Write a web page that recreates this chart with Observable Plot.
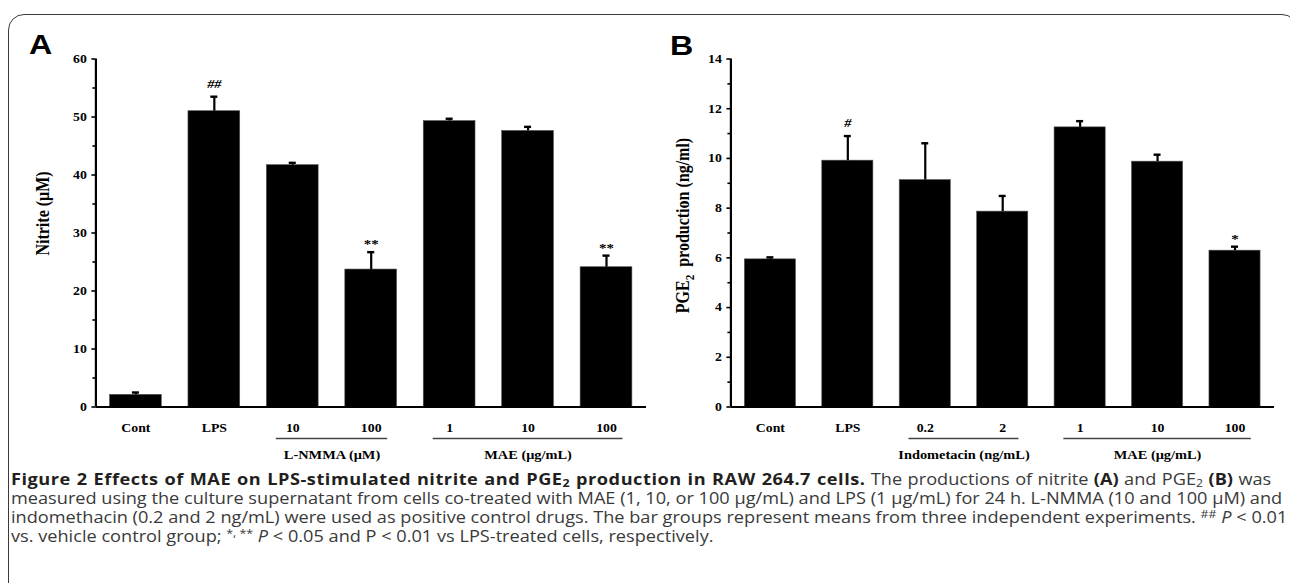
<!DOCTYPE html>
<html><head><meta charset="utf-8">
<script src="https://cdn.jsdelivr.net/npm/d3@7"></script>
<script src="https://cdn.jsdelivr.net/npm/@observablehq/plot@0.6"></script>
<style>
html,body{margin:0;padding:0;background:#fff;}
body{width:1290px;height:583px;overflow:hidden;position:relative;}
#frame{position:absolute;left:8px;top:14px;width:1290px;height:620px;border:1.6px solid #3a3a3a;border-radius:16px;box-sizing:border-box;}
.panel{position:absolute;top:0;}
.letter{position:absolute;font-family:"Liberation Sans",Arial,sans-serif;font-weight:bold;font-size:28px;line-height:1;color:#000;transform:scaleX(1.15);transform-origin:left top;}
#caption{position:absolute;left:11px;top:470px;width:1068px;font-family:"Open Sans",sans-serif;font-size:15.4px;line-height:19px;color:#3a3a3a;transform:scaleX(1.18);transform-origin:left top;}
#caption .ln{text-align:justify;text-align-last:justify;white-space:nowrap;}
#caption .last{text-align:left;white-space:nowrap;}
#caption b{color:#231f20;font-weight:700;}
#caption b.title{letter-spacing:0.45px;}
#caption sub,#caption sup{font-size:68%;line-height:0;}
#caption sub{vertical-align:-0.18em;}
#caption sup{vertical-align:0.45em;}
</style></head>
<body>
<div id="frame"></div>
<div class="letter" style="left:29px;top:31px">A</div>
<div class="letter" style="left:670px;top:32px">B</div>
<div id="panelA" class="panel" style="left:0px"></div>
<div id="panelB" class="panel" style="left:640px"></div>
<div id="caption">
<div class="ln"><b class="title">Figure 2 Effects of MAE on LPS-stimulated nitrite and PGE<sub>2</sub> production in RAW 264.7 cells.</b> The productions of nitrite <b>(A)</b> and PGE<sub>2</sub> <b>(B)</b> was</div>
<div class="ln">measured using the culture supernatant from cells co-treated with MAE (1, 10, or 100 μg/mL) and LPS (1 μg/mL) for 24 h. L-NMMA (10 and 100 μM) and</div>
<div class="ln">indomethacin (0.2 and 2 ng/mL) were used as positive control drugs. The bar groups represent means from three independent experiments. <sup>##</sup> <i>P</i> &lt; 0.01</div>
<div class="last">vs. vehicle control group; <sup>*, **</sup> <i>P</i> &lt; 0.05 and P &lt; 0.01 vs LPS-treated cells, respectively.</div>
</div>
<script>
// Panel A: nitrite
const catsA = ["Cont", "LPS", "10", "100", "1", "10", "100"];
const nitrite = [2.1, 51.0, 41.7, 23.7, 49.3, 47.6, 24.1];
const nitriteErr = [0.4, 2.5, 0.4, 3.0, 0.4, 0.7, 2.0];
const sigA = ["", "##", "", "**", "", "", "**"];
const groupNamesA = ["L-NMMA (μM)", "MAE (μg/mL)"];
const groupFirstA = [2, 4];
const groupLastA = [3, 6];
const yTicksA = [0, 10, 20, 30, 40, 50, 60];
const yMinorA = [5, 15, 25, 35, 45, 55];
const yLabelA = "Nitrite (μM)";

// Panel B: PGE2
const catsB = ["Cont", "LPS", "0.2", "2", "1", "10", "100"];
const pge2 = [5.94, 9.91, 9.13, 7.86, 11.25, 9.87, 6.29];
const pge2Err = [0.08, 0.99, 1.48, 0.63, 0.25, 0.28, 0.16];
const sigB = ["", "#", "", "", "", "", "*"];
const groupNamesB = ["Indometacin (ng/mL)", "MAE (μg/mL)"];
const groupFirstB = [2, 4];
const groupLastB = [3, 6];
const yTicksB = [0, 2, 4, 6, 8, 10, 12, 14];
const yMinorB = [1, 3, 5, 7, 9, 11, 13];
const yLabelB = "PGE2 production (ng/ml)";

function panel(o) {
  const data = o.cats.map((c, i) => ({i, c, v: o.values[i], top: o.values[i] + o.err[i], s: o.sig[i]}));
  const groups = o.groupNames.map((n, k) => ({name: n, first: o.groupFirst[k], last: o.groupLast[k]}));
  const x0 = -0.51, x1 = o.cats.length - 1 + 0.51;
  const half = 0.33, cap = 0.045;
  const ymax = o.ticks[o.ticks.length - 1];
  return Plot.plot({
    width: o.width, height: 470,
    marginLeft: o.marginLeft, marginRight: o.marginRight, marginTop: 58.5, marginBottom: 63.5,
    x: {domain: [x0, x1], axis: null},
    y: {domain: [0, ymax], axis: null, label: null},
    style: {fontFamily: "'Liberation Serif','Times New Roman',serif", fontSize: "12px", fontWeight: "bold", background: "transparent", overflow: "visible", color: "#000"},
    marks: [
      Plot.rectY(data, {x1: d => d.i - half, x2: d => d.i + half, y: "v", fill: "#000", stroke: "#555", strokeWidth: 0.6}),
      Plot.ruleX(data, {x: "i", y1: "v", y2: "top", strokeWidth: 2.2}),
      Plot.ruleY(data, {x1: d => d.i - cap, x2: d => d.i + cap, y: "top", strokeWidth: 2.4}),
      Plot.text(data.filter(d => d.s.includes("#")), {x: "i", y: "top", text: "s", dy: -13, fontSize: 12.5, fontStyle: "italic"}),
      Plot.text(data.filter(d => d.s.includes("*")), {x: "i", y: "top", text: "s", dy: -8, fontSize: 13}),
      Plot.ruleY([0], {strokeWidth: 2.2}),
      Plot.ruleX([x0], {y1: 0, y2: ymax, strokeWidth: 2.2}),
      Plot.axisY({ticks: o.ticks, tickSize: 4, tickPadding: 5, strokeWidth: 1.6, label: null, fontSize: 12}),
      Plot.axisY({ticks: o.minor, tickSize: 3, tickFormat: () => "", strokeWidth: 1.6, label: null}),
      Plot.axisX({ticks: data.map(d => d.i), tickFormat: i => o.cats[i], tickSize: 0, tickPadding: 16, label: null, fontSize: 12}),
      Plot.ruleY(groups, {x1: g => g.first - 0.21, x2: g => g.last + 0.21, y: () => 0, dy: 31.5, stroke: "#444", strokeWidth: 1.3}),
      Plot.text(groups, {x: g => (g.first + g.last) / 2, y: () => 0, dy: 47.5, text: "name", fontSize: 12.5}),
      Plot.text([o.label], {text: d => d, frameAnchor: "left", textAnchor: "middle", rotate: -90, dx: o.labelDx, dy: o.labelDy, fontSize: 16})
    ]
  });
}

// stretch texts horizontally on screen (the reference figure is widened)
function stretch(svg, s) {
  svg.querySelectorAll("text").forEach(t => {
    const tr = t.getAttribute("transform");
    if (!tr) return;
    t.setAttribute("transform", tr + (/rotate/.test(tr) ? ` scale(1,${s})` : ` scale(${s},1)`));
  });
}

const chartA = panel({cats: catsA, values: nitrite, err: nitriteErr, sig: sigA,
  groupNames: groupNamesA, groupFirst: groupFirstA, groupLast: groupLastA,
  ticks: yTicksA, minor: yMinorA, label: yLabelA,
  width: 660, marginLeft: 95.4, marginRight: 14, labelDx: -53, labelDy: -19.5});
const chartB = panel({cats: catsB, values: pge2, err: pge2Err, sig: sigB,
  groupNames: groupNamesB, groupFirst: groupFirstB, groupLast: groupLastB,
  ticks: yTicksB, minor: yMinorB, label: yLabelB,
  width: 650, marginLeft: 90.4, marginRight: 16, labelDx: -47.4, labelDy: -7.5});

// subscript the 2 of PGE2 in the y label
chartB.querySelectorAll("text").forEach(t => {
  if (t.textContent === yLabelB) {
    t.textContent = "";
    const ns = "http://www.w3.org/2000/svg";
    const a = document.createElementNS(ns, "tspan"); a.textContent = "PGE";
    const b = document.createElementNS(ns, "tspan"); b.textContent = "2"; b.setAttribute("dy", "4"); b.setAttribute("font-size", "11");
    const c = document.createElementNS(ns, "tspan"); c.textContent = "\u00a0 production (ng/ml)"; c.setAttribute("dy", "-4");
    t.append(a, b, c);
  }
});
stretch(chartA, 1.15);
stretch(chartB, 1.15);
document.getElementById("panelA").appendChild(chartA);
document.getElementById("panelB").appendChild(chartB);
</script>
</body></html>
